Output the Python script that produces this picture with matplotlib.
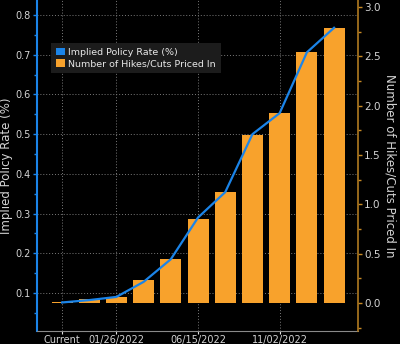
import numpy as np
import matplotlib
matplotlib.use("Agg")
import matplotlib.pyplot as plt
from matplotlib.ticker import MultipleLocator
from matplotlib.patches import Patch

# meetings (categorical x positions)
meetings = ["Current", "12/15/2021", "01/26/2022", "03/16/2022", "05/04/2022", "06/15/2022",
            "07/27/2022", "09/21/2022", "11/02/2022", "12/14/2022", "02/01/2023"]
implied_rate = [0.076, 0.082, 0.090, 0.128, 0.185, 0.290, 0.354, 0.500, 0.553, 0.706, 0.768]
hikes_priced = [0.01, 0.04, 0.06, 0.23, 0.45, 0.85, 1.12, 1.70, 1.92, 2.54, 2.79]
tick_idx = [0, 2, 5, 8]

BG = "#000000"
BLUE = "#1b84e8"
ORANGE = "#f8a22c"
TXT = "#d4d4d4"

fig = plt.figure(figsize=(4.0, 3.44), dpi=100)
fig.patch.set_facecolor(BG)
ax = fig.add_axes([0.0925, 0.038, 0.8025, 0.962])
ax.set_facecolor(BG)
x = np.arange(len(meetings))

# bars on the right axis
ax2 = ax.twinx()
ax2.bar(x, hikes_priced, width=0.77, color=ORANGE, zorder=2)
ax2.set_ylim(-0.284, 3.07)
ax2.yaxis.set_major_locator(MultipleLocator(0.5))
ax2.yaxis.set_minor_locator(MultipleLocator(0.25))
ax2.set_ylabel("Number of Hikes/Cuts Priced In", color=TXT, fontsize=8.5, rotation=270,
               va="center")
ax2.yaxis.set_label_coords(1.1, 0.5)

# line on its own axis sharing the left scale
ax3 = ax.twinx()
ax3.plot(x, implied_rate, color=BLUE, lw=1.6, zorder=3)
ax3.set_ylim(0.0043, 0.838)
ax3.axis("off")

ax.set_ylim(0.0043, 0.838)
ax.set_xlim(-0.92, 10.88)
ax.yaxis.set_minor_locator(MultipleLocator(0.05))
ax.set_yticks([0.1, 0.2, 0.3, 0.4, 0.5, 0.6, 0.7, 0.8])
ax.set_ylabel("Implied Policy Rate (%)", color=TXT, fontsize=8.5, va="center")
ax.yaxis.set_label_coords(-0.094, 0.5)
ax.set_xticks(tick_idx)
ax.set_xticklabels([meetings[i] for i in tick_idx])
ax.grid(True, color="#7a7a7a", linestyle=(0, (1, 2)), linewidth=0.7)
ax.set_axisbelow(True)

ax.tick_params(axis="y", which="both", colors=BLUE, labelcolor=TXT, labelsize=7, length=3, width=1, pad=1.5)
ax.tick_params(axis="y", which="minor", length=2)
ax.tick_params(axis="x", colors="#e0e0e0", labelcolor=TXT, labelsize=7, length=2, pad=1)
ax2.tick_params(axis="y", which="both", colors="#c98a25", labelcolor=TXT, labelsize=7.5, length=3, width=1, pad=1.5)
ax2.tick_params(axis="y", which="minor", length=2)

for a in (ax, ax2):
    for s in a.spines.values():
        s.set_visible(False)
ax.spines["left"].set_visible(True)
ax.spines["left"].set_color(BLUE)
ax.spines["left"].set_linewidth(1.5)
ax.spines["bottom"].set_visible(True)
ax.spines["bottom"].set_color("#8a8a8a")
ax2.spines["right"].set_visible(True)
ax2.spines["right"].set_color("#b07a20")
ax2.spines["right"].set_linewidth(1.2)

handles = [Patch(facecolor=BLUE, label="Implied Policy Rate (%)"),
           Patch(facecolor=ORANGE, label="Number of Hikes/Cuts Priced In")]
leg = ax3.legend(handles=handles, loc="upper left", bbox_to_anchor=(0.03, 0.885),
                 fontsize=6.8, frameon=True, facecolor="#1c1c1c", edgecolor="#1c1c1c",
                 labelcolor="#e8e8e8", handlelength=0.9, handleheight=0.9, handletextpad=0.4,
                 borderpad=0.5, labelspacing=0.25, framealpha=1.0)
leg.get_frame().set_linewidth(0)
leg.get_frame().set_boxstyle("square", pad=0)

fig.savefig("out.png", dpi=100, facecolor=BG)
